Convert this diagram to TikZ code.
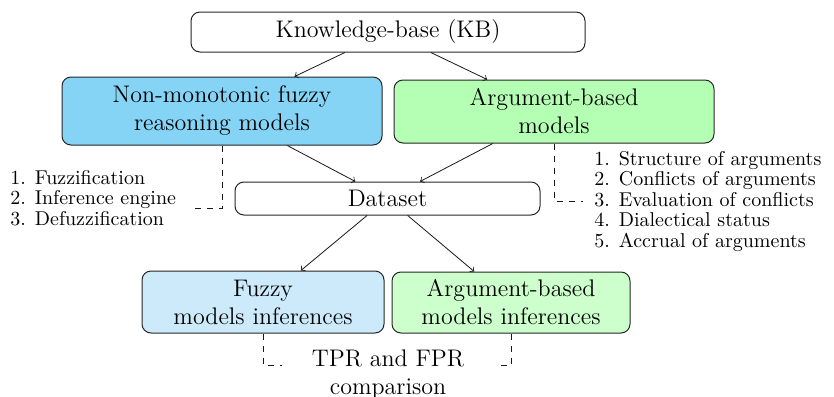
\documentclass[tikz,border=0pt]{standalone}
\usepackage{tikz}
\definecolor{nmblue}{RGB}{133,212,246}
\definecolor{fiblue}{RGB}{204,234,250}
\definecolor{abgreen}{RGB}{180,255,180}
\definecolor{aigreen}{RGB}{204,255,204}
\begin{document}
\begin{tikzpicture}[x=0.5pt,y=-0.5pt,
  box/.style={draw=black!85, line width=0.5pt, rounded corners=4.5pt, align=center, font=\large, inner sep=0pt},
  arr/.style={->, black!90, line width=0.4pt},
  dashconn/.style={dashed, black!90, line width=0.4pt},
  listtxt/.style={align=left, font=\fontsize{10}{10.25}\selectfont, inner sep=0pt}]
\useasboundingbox (0,0) rectangle (834,396);
\node[box, minimum width=197pt, minimum height=20pt] (kb) at (388,32) {Knowledge-base (KB)};
\node[box, fill=nmblue, minimum width=160pt, minimum height=34pt] (nm) at (222,111) {Non-monotonic fuzzy\\reasoning models};
\node[box, fill=abgreen, minimum width=160pt, minimum height=31.5pt] (ab) at (554,111.5) {Argument-based\\models};
\node[box, minimum width=152.5pt, minimum height=16.5pt] (ds) at (387.5,198.5) {Dataset};
\node[box, fill=fiblue, minimum width=121pt, minimum height=31pt] (fi) at (263,302) {Fuzzy\\models inferences};
\node[box, fill=aigreen, minimum width=119pt, minimum height=30.5pt] (ai) at (511,302.5) {Argument-based\\models inferences};
\node[listtxt, anchor=base west] (fl) at (10,225) {1. Fuzzification\\2. Inference engine\\3. Defuzzification};
\node[listtxt, anchor=base west] (al) at (594,247) {1. Structure of arguments\\2. Conflicts of arguments\\3. Evaluation of conflicts\\4. Dialectical status\\5. Accrual of arguments};
\node[font=\large, align=center, inner sep=0pt, anchor=base] (tpr) at (388,394) {TPR and FPR\\comparison};
\coordinate (nmend) at (190,208);
\coordinate (abend) at (583,201);
\coordinate (fiend) at (282,365);
\coordinate (aiend) at (495,365);
\draw[arr] (kb) -- (nm);
\draw[arr] (kb) -- (ab);
\draw[arr] (nm) -- (ds);
\draw[arr] (ab) -- (ds);
\draw[arr] (ds) -- (fi);
\draw[arr] (ds) -- (ai);
\draw[dashconn] (nm.south) |- (nmend);
\draw[dashconn] (ab.south) |- (abend);
\draw[dashconn] (fi.south) |- (fiend);
\draw[dashconn] (ai.south) |- (aiend);
\end{tikzpicture}
\end{document}
